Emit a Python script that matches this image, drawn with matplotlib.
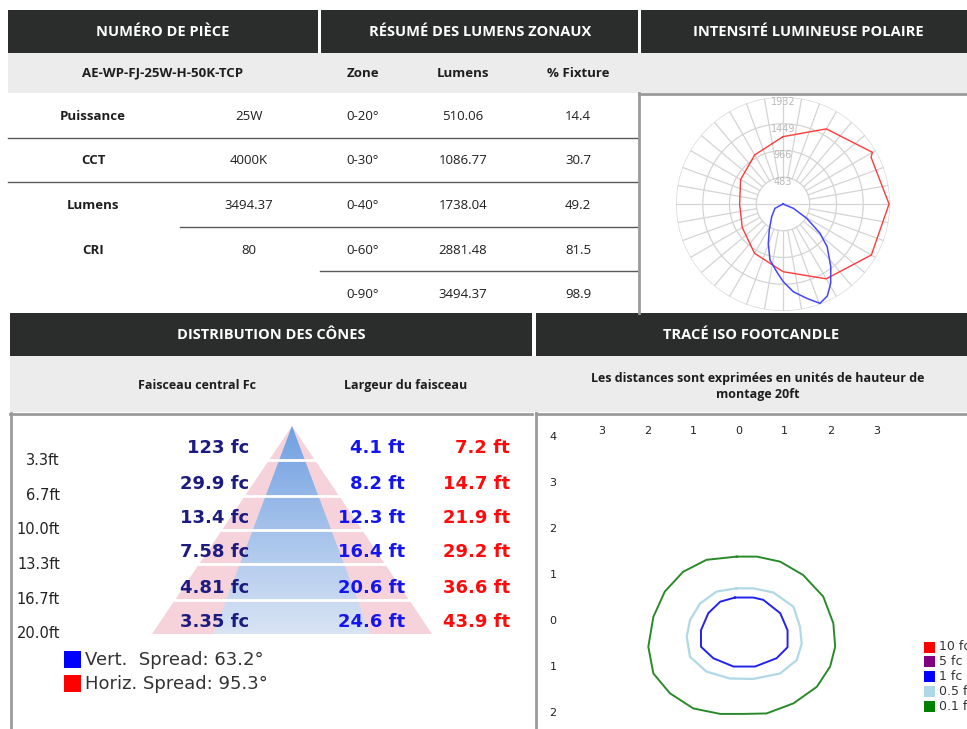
import numpy as np
import matplotlib
matplotlib.use("Agg")
import matplotlib.pyplot as plt
from matplotlib.patches import Rectangle, Polygon
from matplotlib.colors import LinearSegmentedColormap
from matplotlib import transforms

W, H = 967, 729

# ---- data ----
spec_labels = ['Puissance', 'CCT', 'Lumens', 'CRI']
spec_values = ['25W', '4000K', '3494.37', '80']
part_no = 'AE-WP-FJ-25W-H-50K-TCP'
zones = ['0-20°', '0-30°', '0-40°', '0-60°', '0-90°']
zone_lumens = [510.06, 1086.77, 1738.04, 2881.48, 3494.37]
zone_pct = [14.4, 30.7, 49.2, 81.5, 98.9]

# polar candela curves (angle clockwise from top, cd)
rings = [483, 966, 1449, 1932]
horiz_ang = [0, 30, 60, 62, 90, 120, 150, 180, 210, 240, 270, 300, 330, 360]
horiz_cd = [1216, 1566, 1865, 1800, 1915, 1842, 1560, 1222, 1028, 850, 783, 884, 1023, 1216]
vert_ang = [0, 241.7, 221.7, 207.8, 200.5, 193.1, 185.3, 179.8, 173.3, 165.9, 159.6,
            154.3, 149.0, 142.7, 134.1, 128.4, 121.1, 112.7, 0]
vert_cd = [0, 164, 307, 531, 758, 1038, 1228, 1403, 1595, 1756, 1914,
           1844, 1671, 1423, 1111, 852, 500, 202, 0]

# cone distribution
depth_ft = [3.3, 6.7, 10.0, 13.3, 16.7, 20.0]
center_fc = [123, 29.9, 13.4, 7.58, 4.81, 3.35]
vert_width = [4.1, 8.2, 12.3, 16.4, 20.6, 24.6]
horiz_width = [7.2, 14.7, 21.9, 29.2, 36.6, 43.9]
vert_spread = 63.2
horiz_spread = 95.3

# iso footcandle contours (mounting-height units)
iso_01_x = [-0.05, -0.71, -1.22, -1.62, -1.87, -1.98, -1.87, -1.51, -1.00, -0.41, 0.09,
            0.60, 1.19, 1.70, 1.99, 2.10, 2.06, 1.84, 1.40, 0.90, 0.39, -0.05]
iso_01_y = [1.40, 1.33, 1.07, 0.64, 0.09, -0.56, -1.14, -1.57, -1.90, -2.02, -2.02,
            -2.01, -1.79, -1.43, -0.99, -0.56, -0.05, 0.53, 1.00, 1.29, 1.40, 1.40]
iso_05_x = [-0.05, -0.49, -0.85, -1.07, -1.14, -1.07, -0.71, -0.20, 0.31, 0.90, 1.26,
            1.37, 1.33, 1.19, 0.75, 0.31, -0.05]
iso_05_y = [0.71, 0.64, 0.38, 0.02, -0.34, -0.78, -1.10, -1.25, -1.26, -1.14, -0.85,
            -0.49, -0.12, 0.31, 0.62, 0.71, 0.71]
iso_1_x = [-0.09, -0.41, -0.67, -0.83, -0.83, -0.56, -0.12, 0.35, 0.82, 1.06, 1.06,
           0.90, 0.53, 0.31, -0.09]
iso_1_y = [0.51, 0.42, 0.17, -0.20, -0.56, -0.81, -0.99, -0.99, -0.81, -0.57, -0.20,
           0.17, 0.46, 0.51, 0.51]
iso_levels = ['10 fc', '5 fc', '1 fc', '0.5 fc', '0.1 fc']
iso_colors = ['#ff0000', '#800080', '#0000ff', '#add8e6', '#008000']
x_ticks = [-3, -2, -1, 0, 1, 2, 3]
y_ticks = [4, 3, 2, 1, 0, -1, -2]

DARK = '#2b2c2c'
LIGHT = '#ececec'

fig = plt.figure(figsize=(W / 100, H / 100), dpi=100)
bg = fig.add_axes([0, 0, 1, 1])
bg.set_xlim(0, W)
bg.set_ylim(H, 0)
bg.axis('off')


def px_axes(x0, y0, x1, y1, **kw):
    return fig.add_axes([x0 / W, 1 - y1 / H, (x1 - x0) / W, (y1 - y0) / H], **kw)


def box(x0, y0, x1, y1, color):
    bg.add_patch(Rectangle((x0, y0), x1 - x0, y1 - y0, color=color, lw=0))


hfont = dict(family='Open Sans', color='white', weight='bold', fontsize=10.5, ha='center', va='center')
tfont = dict(family='Open Sans', color='#1e1e1e', fontsize=9.5, ha='center', va='center')

# ---- top headers ----
box(8, 10, 318, 53, DARK)
box(321, 10, 638, 53, DARK)
box(641, 10, 967, 53, DARK)
bg.text(163, 32, 'NUMÉRO DE PIÈCE', **hfont)
bg.text(480, 32, 'RÉSUMÉ DES LUMENS ZONAUX', **hfont)
bg.text(808, 32, 'INTENSITÉ LUMINEUSE POLAIRE', **hfont)
box(8, 53, 967, 93, LIGHT)
bg.text(163, 73, part_no, weight='bold', **tfont)
bg.text(363, 73, 'Zone', weight='bold', **tfont)
bg.text(463, 73, 'Lumens', weight='bold', **tfont)
bg.text(578, 73, '% Fixture', weight='bold', **tfont)

# ---- table ----
row_y = [116, 160, 205, 250, 294]
for i, (lab, val) in enumerate(zip(spec_labels, spec_values)):
    bg.text(93, row_y[i], lab, weight='bold', **tfont)
    bg.text(249, row_y[i], val, **tfont)
for i, (z, lm, pc) in enumerate(zip(zones, zone_lumens, zone_pct)):
    bg.text(363, row_y[i], z, **tfont)
    bg.text(463, row_y[i], f'{lm:.2f}', **tfont)
    bg.text(578, row_y[i], f'{pc:.1f}', **tfont)
for y, x0 in [(138, 8), (182, 8), (227, 180), (271, 320)]:
    bg.plot([x0, 638], [y, y], color='#5a5a5a', lw=1)

# polar box border
bg.plot([639, 639], [93, 313], color='#9a9a9a', lw=2)
bg.plot([639, 967], [94, 94], color='#9a9a9a', lw=2)

# ---- polar plot ----
pax = px_axes(676, 97, 890, 311, projection='polar')
pax.set_theta_zero_location('N')
pax.set_theta_direction(-1)
pax.set_ylim(0, rings[-1])
pax.grid(False)
pax.set_xticks([])
pax.set_yticks([])
pax.spines['polar'].set_visible(False)
pax.patch.set_alpha(0)
t = np.linspace(0, 2 * np.pi, 300)
for r in rings:
    pax.plot(t, np.full_like(t, r), color='#d4d4d4', lw=0.9)
for a in range(0, 360, 10):
    r0 = 0 if a in (90, 270) else rings[0]
    pax.plot([np.radians(a)] * 2, [r0, rings[-1]], color='#d4d4d4', lw=0.9)
for r in rings:
    pax.text(0, r - 90, str(r), color='#b8b8b8', fontsize=7, ha='center', va='center')
pax.plot(np.radians(horiz_ang), horiz_cd, color='#ff3a3a', lw=1)
pax.plot(np.radians(vert_ang), vert_cd, color='#4545ff', lw=1.1)

# ---- lower headers ----
box(10, 313, 532, 356, DARK)
box(536, 313, 967, 356, DARK)
bg.text(271, 335, 'DISTRIBUTION DES CÔNES', **hfont)
bg.text(751, 335, 'TRACÉ ISO FOOTCANDLE', **hfont)
box(10, 356, 967, 412, LIGHT)
bg.text(197, 385, 'Faisceau central Fc', weight='bold', **{**tfont, 'fontsize': 9})
bg.text(406, 385, 'Largeur du faisceau', weight='bold', **{**tfont, 'fontsize': 9})
bg.text(758, 386, 'Les distances sont exprimées en unités de hauteur de\nmontage 20ft',
        weight='bold', linespacing=1.3, **{**tfont, 'fontsize': 9})
bg.plot([11, 11], [413, 729], color='#9a9a9a', lw=2)
bg.plot([10, 532], [414, 414], color='#9a9a9a', lw=2)
bg.plot([536, 536], [413, 729], color='#9a9a9a', lw=2)
bg.plot([536, 967], [414, 414], color='#9a9a9a', lw=2)

# ---- cone distribution ----
cx0, cx1, apex_x, apex_y = 12, 532, 292, 426
sx, sy = 6.38, 10.4  # px per ft
cax = px_axes(cx0, 415, cx1, 729)
cax.axis('off')
cax.patch.set_alpha(0)
xl = ((cx0 - apex_x) / sx, (cx1 - apex_x) / sx)
yl = ((729 - apex_y) / sy, (415 - apex_y) / sy)
dmax = depth_ft[-1]
hh = horiz_width[-1] / 2
vh = vert_width[-1] / 2
cax.add_patch(Polygon([(0, 0), (hh, dmax), (-hh, dmax)], closed=True, color='#f6d3da', lw=0))
blue_tri = Polygon([(0, 0), (vh, dmax), (-vh, dmax)], closed=True, transform=cax.transData, fc='none', lw=0)
cax.add_patch(blue_tri)
cmap = LinearSegmentedColormap.from_list('cone', ['#70a0e2', '#d9e4f4'])
grad = np.linspace(0, 1, 256).reshape(-1, 1)
im = cax.imshow(grad, cmap=cmap, extent=[-vh, vh, dmax, 0], aspect='auto', zorder=2)
im.set_clip_path(blue_tri)
for d in depth_ft[:-1]:
    w = hh * d / dmax
    cax.plot([-w, w], [d, d], color='white', lw=2, zorder=3)
cax.set_xlim(*xl)
cax.set_ylim(*yl)

tr = transforms.blended_transform_factory(cax.transAxes, cax.transData)
fx = lambda p: (p - cx0) / (cx1 - cx0)
for d, fc, vw, hw in zip(depth_ft, center_fc, vert_width, horiz_width):
    cax.text(fx(60), d, f'{d:.1f}ft', transform=tr, ha='right', va='center', fontsize=10.5, color='#222222', zorder=4)
    ly = d - 1.15
    cax.text(fx(249), ly, f'{fc:g} fc', transform=tr, ha='right', va='center', fontsize=13, weight='bold', color='#1c1c80', zorder=4)
    cax.text(fx(405), ly, f'{vw:.1f} ft', transform=tr, ha='right', va='center', fontsize=13, weight='bold', color='#1414ee', zorder=4)
    cax.text(fx(510), ly, f'{hw:.1f} ft', transform=tr, ha='right', va='center', fontsize=13, weight='bold', color='#ff0a0a', zorder=4)

box(64, 651, 81, 668, '#0000ff')
box(64, 675, 81, 692, '#ff0000')
bg.text(85, 660, f'Vert.  Spread: {vert_spread}°', ha='left', va='center', fontsize=13, color='#333333')
bg.text(85, 684, f'Horiz. Spread: {horiz_spread}°', ha='left', va='center', fontsize=13, color='#333333')

# ---- iso footcandle ----
ox, oy, ux, uy = 739, 621, 45.8, 46.0
ix0, iy0 = 538, 415
iax = px_axes(ix0, iy0, W, H)
iax.axis('off')
iax.patch.set_alpha(0)
iax.set_xlim((ix0 - ox) / ux, (W - ox) / ux)
iax.set_ylim((oy - H) / uy, (oy - iy0) / uy)
iax.plot(iso_01_x, iso_01_y, color='#2a8a2a', lw=1.4)
iax.plot(iso_05_x, iso_05_y, color='#b0d8e6', lw=1.6)
iax.plot(iso_1_x, iso_1_y, color='#2222ee', lw=1.4)
for v in x_ticks:
    iax.text(v, 4.13, str(abs(v)), ha='center', va='center', fontsize=8, color='#222222')
for v in y_ticks:
    iax.text((553 - ox) / ux, v, str(abs(v)), ha='center', va='center', fontsize=8, color='#222222')

for i, (lab, col) in enumerate(zip(iso_levels, iso_colors)):
    y = 647 + i * 14.8
    box(924, y - 5.5, 935, y + 5.5, col)
    bg.text(939, y, lab, ha='left', va='center', fontsize=9, color='#333333')

fig.savefig('out.png', dpi=100)
